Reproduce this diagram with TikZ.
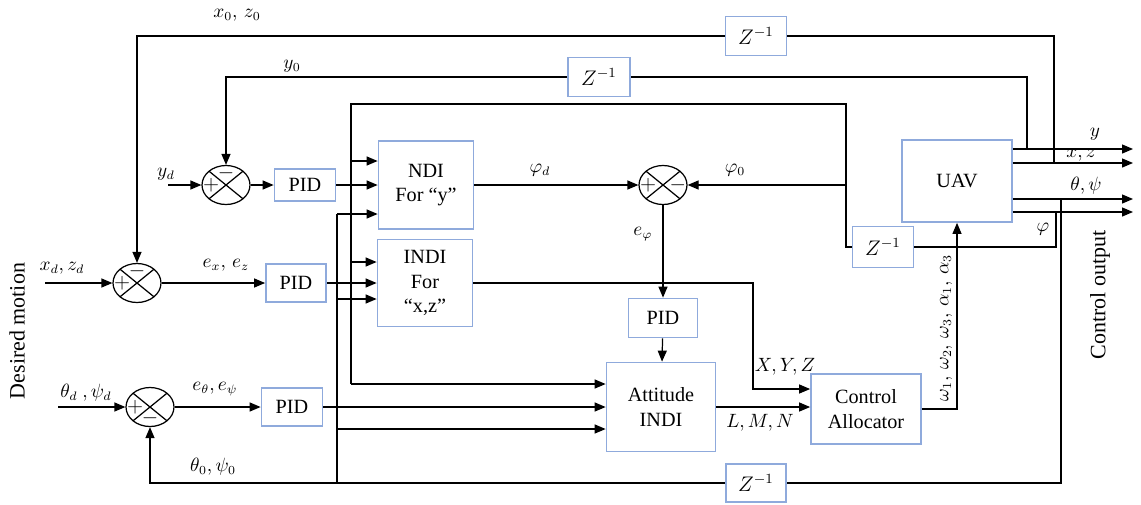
\documentclass[tikz,border=0pt]{standalone}
\usepackage{fontspec}
\setmainfont{Liberation Serif}
\usepackage{amsmath}
\usepackage{xcolor}
\usepackage{tikz}
\usetikzlibrary{arrows.meta,shapes.geometric}
\definecolor{boxblue}{RGB}{143,170,220}

\begin{document}
\begin{tikzpicture}[
  x=0.02cm, y=-0.02cm,
  line width=0.7pt,
  font=\fontsize{11.5}{14}\selectfont,
  box/.style={draw=boxblue, line width=1pt, fill=white, align=center, inner sep=2pt},
  sum/.style={ellipse, draw, minimum width=9.6mm, minimum height=7.8mm, inner sep=0pt,
    path picture={\draw (path picture bounding box.north west) -- (path picture bounding box.south east)
      (path picture bounding box.north east) -- (path picture bounding box.south west);}},
  sign/.style={inner sep=0.6pt, font=\fontsize{13}{13}\selectfont},
  lbl/.style={inner sep=1pt, font=\fontsize{10.5}{12}\selectfont},
  side/.style={rotate=90, font=\fontsize{12.5}{14}\selectfont},
  arrow/.style={-{Triangle[length=2.2mm,width=1.8mm]}},
]
\useasboundingbox (0,0) rectangle (1141,504);

% summing points
\node[sum] (sy) at (226,185) {};
\node[sum] (sxz) at (137,283) {};
\node[sum] (sth) at (150,407) {};
\node[sum] (sphi) at (663,185) {};
\node[sign, anchor=west] (syp) at (sy.west) {$+$};
\node[sign, anchor=north] (sym) at (sy.north) {$-$};
\node[sign, anchor=west] (sxzp) at (sxz.west) {$+$};
\node[sign, anchor=north] (sxzm) at (sxz.north) {$-$};
\node[sign, anchor=west] (sthp) at (sth.west) {$+$};
\node[sign, anchor=south] (sthm) at (sth.south) {$-$};
\node[sign, anchor=west] (sphip) at (sphi.west) {$+$};
\node[sign, anchor=east] (sphim) at (sphi.east) {$-$};

% blocks
\node[box, minimum width=12.2mm, minimum height=6.4mm] (pidy) at (305,185) {PID};
\node[box, minimum width=19mm, minimum height=17.6mm] (ndiy) at (426,185) {NDI\\For “y”};
\node[box, minimum width=12mm, minimum height=7.6mm] (pidxz) at (296,283) {PID};
\node[box, minimum width=19mm, minimum height=17.4mm] (indixz) at (425,283) {INDI\\For\\“x,z”};
\node[box, minimum width=13.8mm, minimum height=7.8mm] (pidphi) at (663,318) {PID};
\node[box, minimum width=21.8mm, minimum height=17.8mm] (att) at (661,407) {Attitude\\INDI};
\node[box, minimum width=12.2mm, minimum height=7.6mm] (pidth) at (292,407) {PID};
\node[box, minimum width=22mm, minimum height=14mm] (ca) at (866,409) {Control\\Allocator};
\node[box, minimum width=22mm, minimum height=16.4mm] (uav) at (957,181) {UAV};
\node[box, minimum width=12.2mm, minimum height=7.8mm] (zxz) at (756,36) {$Z^{-1}$};
\node[box, minimum width=12.4mm, minimum height=7.8mm] (zy) at (599,77) {$Z^{-1}$};
\node[box, minimum width=12.2mm, minimum height=8.2mm] (zphi) at (883,247) {$Z^{-1}$};
\node[box, minimum width=12mm, minimum height=7.6mm] (zth) at (756,483) {$Z^{-1}$};

% inputs and forward path
\coordinate (yd) at (168,185);
\coordinate (xzd) at (45,283);
\coordinate (thd) at (58,407);
\draw[arrow] (yd) -- (sy);
\draw[arrow] (sy) -- (pidy);
\draw[arrow] (pidy) -- (ndiy);
\draw[arrow] (xzd) -- (sxz);
\draw[arrow] (sxz) -- (pidxz);
\draw[arrow] (pidxz) -- (indixz);
\draw[arrow] (thd) -- (sth);
\draw[arrow] (sth) -- (pidth);
\draw[arrow] (pidth) -- (pidth -| att.west);
\draw[arrow] (ndiy) -- (sphi);
\draw[arrow] (sphi) -- (pidphi);
\draw[arrow] (pidphi) -- (att);
\coordinate (xyz) at (753,389);
\draw[arrow] (indixz.east) -| (xyz) -- (xyz -| ca.west);
\draw[arrow] (att) -- (att -| ca.west);
\draw[arrow] (ca) -| (uav);

% outputs
\coordinate (oy) at (1133,149);
\coordinate (oxz) at (1133,163);
\coordinate (oth) at (1133,199);
\coordinate (ophi) at (1133,212);
\draw[arrow] (oy -| uav.east) -- (oy);
\draw[arrow] (oxz -| uav.east) -- (oxz);
\draw[arrow] (oth -| uav.east) -- (oth);
\draw[arrow] (ophi -| uav.east) -- (ophi);

% feedback y, x z
\coordinate (ytap) at (1027,149);
\coordinate (xztap) at (1054,163);
\draw[arrow] (ytap) |- (zy) -| (sy.north);
\draw[arrow] (xztap) |- (zxz) -| (sxz.north);

% feedback phi
\coordinate (phitap) at (1056,212);
\coordinate (phiR) at (846,104);
\coordinate (phiL) at (351,104);
\coordinate (phiA) at (351,161);
\coordinate (phiC) at (351,262);
\coordinate (phiB) at (351,384);
\coordinate (phi0) at (846,185);
\draw (phitap) |- (zphi) -| (phiR) -- (phiL) -- (phiB);
\draw[arrow] (phi0) -- (sphi.east);
\draw[arrow] (phiA) -- (phiA -| ndiy.west);
\draw[arrow] (phiC) -- (phiC -| indixz.west);
\draw[arrow] (phiB) -- (phiB -| att.west);

% feedback theta psi
\coordinate (thtap) at (1061,199);
\coordinate (thA) at (337,214);
\coordinate (thB) at (337,299);
\coordinate (thC) at (337,429);
\coordinate (thD) at (337,483);
\draw[arrow] (thtap) |- (zth) -| (sth.south);
\draw (thD) -- (thA);
\draw[arrow] (thA) -- (thA -| ndiy.west);
\draw[arrow] (thB) -- (thB -| indixz.west);
\draw[arrow] (thC) -- (thC -| att.west);

% labels
\node[lbl] (lyd) at (166,174) {$y_d$};
\node[lbl] (lxzd) at (62,268) {$x_d,z_d$};
\node[lbl] (lthd) at (86,393) {$\theta_d\ ,\psi_d$};
\node[lbl] (lexz) at (226,265) {$e_x,\, e_z$};
\node[lbl] (leth) at (215,389) {$e_\theta,e_\psi$};
\node[lbl] (ly0) at (292,66) {$y_0$};
\node[lbl] (lxz0) at (237,15) {$x_0,\, z_0$};
\node[lbl] (lphid) at (540,170) {$\varphi_d$};
\node[lbl] (lphi0) at (735,170) {$\varphi_0$};
\node[lbl] (lephi) at (643,234) {$e_\varphi$};
\node[lbl] (lxyz) at (785,367) {$X,Y,Z$};
\node[lbl] (llmn) at (760,423) {$L,M,N$};
\node[lbl] (lth0) at (213,467) {$\theta_0,\psi_0$};
\node[lbl, rotate=90] (lom) at (946,328) {$\omega_1,\, \omega_2,\, \omega_3,\, \alpha_1,\, \alpha_3$};
\node[lbl] (loy) at (1095,134) {$y$};
\node[lbl, inner sep=0pt] (loxz) at (1081,155) {$x,z$};
\node[lbl] (loth) at (1086,186) {$\theta,\psi$};
\node[lbl] (lophi) at (1043,229) {$\varphi$};
\node[side] (desired) at (17,331) {Desired motion};
\node[side] (ctrlout) at (1100,295) {Control output};
\end{tikzpicture}
\end{document}
